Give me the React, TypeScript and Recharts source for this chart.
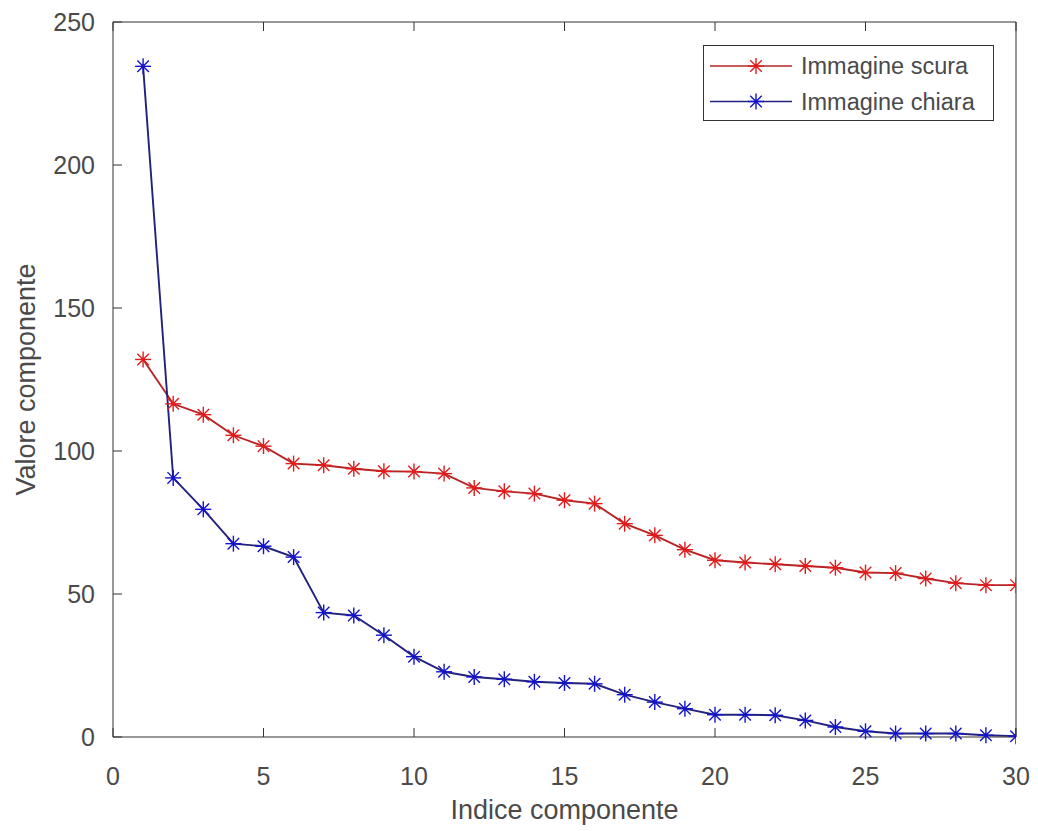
import React from 'react';
import { LineChart, Line, XAxis, YAxis, Legend } from 'recharts';

// component index (x) and the two eigen-value curves
const indices = [1, 2, 3, 4, 5, 6, 7, 8, 9, 10, 11, 12, 13, 14, 15, 16, 17, 18, 19, 20, 21, 22, 23, 24, 25, 26, 27, 28, 29, 30];
const scura = [132, 116.5, 112.7, 105.5, 101.7, 95.6, 95, 93.8, 92.9, 92.8, 92.1, 87.1, 85.9, 85.1, 82.8, 81.6, 74.6, 70.5, 65.5, 61.8, 61, 60.4, 59.8, 59.2, 57.5, 57.3, 55.4, 53.8, 53.1, 53.1];
const chiara = [234.5, 90.6, 79.6, 67.6, 66.7, 62.9, 43.5, 42.5, 35.6, 28.1, 22.8, 21, 20.2, 19.3, 18.9, 18.6, 14.8, 12.2, 9.9, 7.8, 7.8, 7.6, 5.8, 3.5, 2, 1.2, 1.2, 1.2, 0.6, 0.3];

const xTicks = [0, 5, 10, 15, 20, 25, 30];
const yTicks = [0, 50, 100, 150, 200, 250];

const SERIES = [
  { key: 'scura', name: 'Immagine scura', line: '#b82424', marker: '#e01c1c' },
  { key: 'chiara', name: 'Immagine chiara', line: '#22227e', marker: '#1414c8' },
];

const data = indices.map((x, i) => ({ x, scura: scura[i], chiara: chiara[i] }));

const AXIS = '#333333';
const TEXT = '#4a4a4a';
const FONT = 'Arial, "Liberation Sans", Helvetica, sans-serif';
const TICK_LEN = 9;
const X_MARGIN = 30;
const Y_MARGIN = 18;

function Asterisk({ cx, cy, color }: { cx: number; cy: number; color: string }) {
  const r = 8;
  const d = r * 0.72;
  return (
    <g stroke={color} strokeWidth={1.4} fill="none">
      <line x1={cx - r} y1={cy} x2={cx + r} y2={cy} />
      <line x1={cx} y1={cy - r} x2={cx} y2={cy + r} />
      <line x1={cx - d} y1={cy - d} x2={cx + d} y2={cy + d} />
      <line x1={cx - d} y1={cy + d} x2={cx + d} y2={cy - d} />
      <circle cx={cx} cy={cy} r={2} fill={color} stroke="none" />
    </g>
  );
}

// ticks point inward, MATLAB style
const BottomTick = ({ x, y, payload }: any) => (
  <g>
    <line x1={x} y1={y - X_MARGIN} x2={x} y2={y - X_MARGIN - TICK_LEN} stroke={AXIS} />
    <text x={x} y={y} dy="0.71em" textAnchor="middle" fontSize={25} fill={TEXT} fontFamily={FONT}>
      {payload.value}
    </text>
  </g>
);

const LeftTick = ({ x, y, payload }: any) => (
  <g>
    <line x1={x + Y_MARGIN} y1={y} x2={x + Y_MARGIN + TICK_LEN} y2={y} stroke={AXIS} />
    <text x={x} y={y} dy="0.355em" textAnchor="end" fontSize={25} fill={TEXT} fontFamily={FONT}>
      {payload.value}
    </text>
  </g>
);

const TopTick = ({ x, y }: any) => <line x1={x} y1={y} x2={x} y2={y + TICK_LEN} stroke={AXIS} />;
const RightTick = ({ x, y }: any) => <line x1={x} y1={y} x2={x - TICK_LEN} y2={y} stroke={AXIS} />;

const LegendBox = () => (
  <svg width={291} height={76} style={{ display: 'block' }}>
    <rect x={0.5} y={0.5} width={290} height={75} fill="#fff" stroke={AXIS} strokeWidth={1} />
    {SERIES.map((s, i) => {
      const y = i === 0 ? 21 : 56.5;
      return (
        <g key={s.key}>
          <line x1={7} y1={y} x2={89} y2={y} stroke={s.line} strokeWidth={1.6} />
          <Asterisk cx={53} cy={y} color={s.marker} />
          <text x={98} y={y} dy="0.35em" fontSize={23.5} fill={TEXT} fontFamily={FONT}>
            {s.name}
          </text>
        </g>
      );
    })}
  </svg>
);

export default function App() {
  return (
    <div style={{ position: 'absolute', left: 0, top: 0, width: 1038, height: 831, background: '#fff' }}>
      <LineChart
        width={1038}
        height={831}
        data={data}
        margin={{ top: 21, right: 21, bottom: 44, left: 33 }}
        style={{ fontFamily: FONT }}
      >
        <XAxis
          dataKey="x"
          type="number"
          domain={[0, 30]}
          ticks={xTicks}
          allowDataOverflow
          height={50}
          stroke={AXIS}
          tickLine={false}
          tickSize={0}
          tickMargin={X_MARGIN}
          tick={<BottomTick />}
          label={{ value: 'Indice componente', position: 'insideBottom', offset: 0, dy: 32, fill: TEXT, fontSize: 27 }}
        />
        <XAxis
          xAxisId="top"
          orientation="top"
          dataKey="x"
          type="number"
          domain={[0, 30]}
          ticks={xTicks}
          height={1}
          stroke={AXIS}
          tickLine={false}
          tickSize={0}
          tickMargin={0}
          tick={<TopTick />}
        />
        <YAxis
          type="number"
          domain={[0, 250]}
          ticks={yTicks}
          width={80}
          stroke={AXIS}
          tickLine={false}
          tickSize={0}
          tickMargin={Y_MARGIN}
          tick={<LeftTick />}
          label={{ value: 'Valore componente', angle: -90, position: 'insideLeft', offset: 0, dx: -8, fill: TEXT, fontSize: 27, style: { textAnchor: 'middle' } }}
        />
        <YAxis
          yAxisId="right"
          orientation="right"
          type="number"
          domain={[0, 250]}
          ticks={yTicks}
          width={1}
          stroke={AXIS}
          tickLine={false}
          tickSize={0}
          tickMargin={0}
          tick={<RightTick />}
        />
        <Legend
          layout="vertical"
          align="center"
          verticalAlign="middle"
          wrapperStyle={{ left: 703, top: 45, width: 291, height: 76 }}
          content={() => <LegendBox />}
        />
        {SERIES.map((s) => (
          <Line
            key={s.key}
            dataKey={s.key}
            name={s.name}
            type="linear"
            stroke={s.line}
            strokeWidth={1.9}
            isAnimationActive={false}
            dot={(p: any) => <Asterisk key={`${s.key}-${p.index}`} cx={p.cx} cy={p.cy} color={s.marker} />}
            activeDot={false}
          />
        ))}
      </LineChart>
    </div>
  );
}
